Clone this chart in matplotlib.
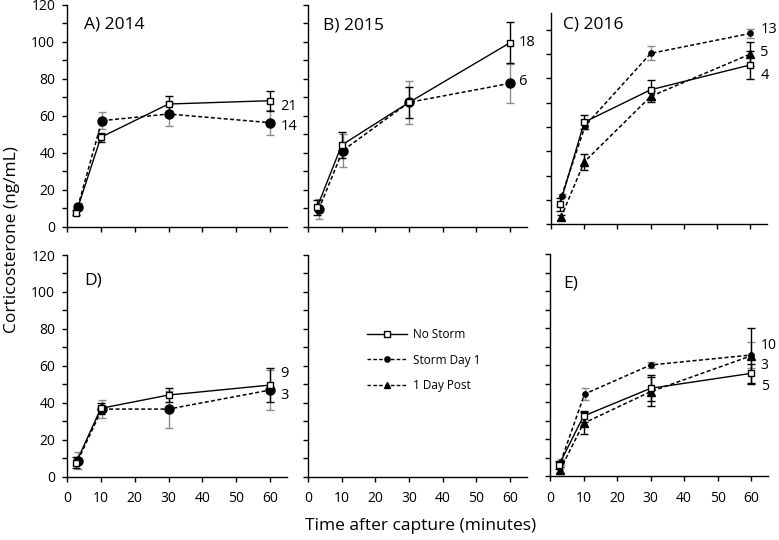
import matplotlib
matplotlib.use("Agg")
import matplotlib.pyplot as plt
from matplotlib.lines import Line2D

plt.rcParams['font.family'] = ['Open Sans', 'DejaVu Sans']

# ---------------- data ----------------
t_nostorm = [2.7, 10, 30, 60]
t_storm = [3.2, 10.3, 30, 60]
t_post = [3.0, 10, 30, 60]

# Panel A (2014)
a_ns_y = [7.6, 48.4, 66.4, 68.2]
a_ns_err = [1.5, 2.5, 4.3, 5.4]
a_sd_y = [10.8, 57.4, 61.0, 56.3]
a_sd_err = [2.0, 4.5, 6.5, 6.7]
a_n = ["21", "14"]

# Panel B (2015)
b_ns_y = [10.5, 44.2, 67.3, 99.6]
b_ns_err = [4.0, 7.0, 8.5, 11.0]
b_sd_y = [9.4, 41.2, 67.3, 77.6]
b_sd_err = [5.4, 9.0, 11.5, 10.5]
b_n = ["18", "6"]

# Panel C (2016)
c_ns_y = [12.4, 62.9, 82.9, 98.2]
c_ns_err = [4.0, 4.3, 6.2, 8.6]
c_sd_y = [17.6, 60.8, 105.3, 117.6]
c_sd_err = [1.0, 2.0, 4.3, 3.0]
c_pd_y = [4.3, 38.4, 78.8, 104.9]
c_pd_err = [1.5, 5.1, 3.4, 7.4]
c_n = ["13", "5", "4"]

# Panel D
d_ns_y = [7.6, 37.0, 44.2, 49.6]
d_ns_err = [3.0, 3.0, 3.6, 9.0]
d_sd_y = [8.7, 36.6, 36.6, 46.9]
d_sd_err = [4.5, 5.0, 10.0, 11.0]
d_n = ["9", "3"]

# Panel E
e_ns_y = [6.0, 32.4, 47.4, 55.5]
e_ns_err = [2.0, 3.0, 7.0, 5.0]
e_sd_y = [7.7, 44.3, 60.0, 65.4]
e_sd_err = [1.5, 3.0, 1.5, 7.0]
e_pd_y = [3.2, 28.5, 45.6, 65.0]
e_pd_err = [1.5, 6.0, 8.0, 15.0]
e_n = ["10", "3", "5"]

x_ticks = [0, 10, 20, 30, 40, 50, 60]
legend_labels = ["No Storm", "Storm Day 1", "1 Day Post"]

# ---------------- styles ----------------
GRAY = "#8c8c8c"
DASH = (0, (2.6, 1.6))
fig = plt.figure(figsize=(7.79, 5.40), dpi=100)

W, H = 779.0, 540.0


def rect(x0, x1, ytop, ybot):
    return [x0 / W, 1 - ybot / H, (x1 - x0) / W, (ybot - ytop) / H]


def style_axes(ax, ymax, yticks, ylabels, xlabels):
    for s in ['top', 'right']:
        ax.spines[s].set_visible(False)
    for s in ['left', 'bottom']:
        ax.spines[s].set_linewidth(1.0)
    ax.set_xlim(0, 65)
    ax.set_ylim(0, ymax)
    ax.set_xticks(x_ticks)
    ax.set_yticks(yticks)
    if xlabels:
        ax.set_xticklabels([str(v) for v in x_ticks])
    else:
        ax.set_xticklabels([])
    if ylabels:
        ax.set_yticklabels([str(v) if v % 20 == 0 else "" for v in yticks])
    else:
        ax.set_yticklabels([])
    ax.tick_params(axis='both', direction='out', length=3.5, width=1.0,
                   labelsize=10, colors='black')
    ax.tick_params(axis='y', pad=5)
    ax.tick_params(axis='x', pad=7)


def nostorm(ax, y, err):
    ax.errorbar(t_nostorm, y, yerr=err, fmt='none', ecolor='black',
                elinewidth=1.0, capsize=3, capthick=1.0, zorder=2)
    ax.plot(t_nostorm, y, color='black', lw=1.0, marker='s', ms=4.2,
            mfc='white', mec='black', mew=1.0, zorder=4)


def storm(ax, y, err, big=True):
    ax.errorbar(t_storm, y, yerr=err, fmt='none', ecolor=GRAY,
                elinewidth=1.0, capsize=3, capthick=1.0, zorder=2)
    ax.plot(t_storm, y, color='black', lw=1.1, ls=DASH, marker='o',
            ms=6.5 if big else 3.8, mfc='black', mec='black', zorder=3)


def post(ax, y, err):
    ax.errorbar(t_post, y, yerr=err, fmt='none', ecolor='black',
                elinewidth=1.0, capsize=3, capthick=1.0, zorder=2)
    ax.plot(t_post, y, color='black', lw=1.1, ls=DASH, marker='^',
            ms=5.5, mfc='black', mec='black', zorder=3)


def nlabels(ax, labels, ys, x=63, fs=10.5):
    for lab, yy in zip(labels, ys):
        ax.text(x, yy, lab, fontsize=fs, va='center', ha='left', clip_on=False)


yt = list(range(0, 121, 10))
yt_c = list(range(0, 121, 15))

# Panel A
axA = fig.add_axes(rect(67, 287, 5, 226.7))
style_axes(axA, 120, yt, True, False)
storm(axA, a_sd_y, a_sd_err)
nostorm(axA, a_ns_y, a_ns_err)
axA.text(0.077, 0.912, "A) 2014", transform=axA.transAxes, fontsize=12.5, va='center')
nlabels(axA, a_n, [65.3, 54.5])

# Panel B
axB = fig.add_axes(rect(308, 527, 5, 226.7))
style_axes(axB, 120, yt, False, False)
storm(axB, b_sd_y, b_sd_err)
nostorm(axB, b_ns_y, b_ns_err)
axB.text(0.067, 0.907, "B) 2015", transform=axB.transAxes, fontsize=12.5, va='center')
nlabels(axB, b_n, [99.6, 78.5], x=62.5)

# Panel C
axC = fig.add_axes(rect(551, 767, 13.3, 224.3))
style_axes(axC, 130, yt_c, False, False)
storm(axC, c_sd_y, c_sd_err, big=False)
post(axC, c_pd_y, c_pd_err)
nostorm(axC, c_ns_y, c_ns_err)
axC.text(0.054, 0.945, "C) 2016", transform=axC.transAxes, fontsize=12.5, va='center')
nlabels(axC, c_n, [120.1, 105.7, 91.4])

# Panel D
axD = fig.add_axes(rect(67, 287, 255, 476.7))
style_axes(axD, 120, yt, True, True)
storm(axD, d_sd_y, d_sd_err)
nostorm(axD, d_ns_y, d_ns_err)
axD.text(0.077, 0.887, "D)", transform=axD.transAxes, fontsize=12.5, va='center')
nlabels(axD, d_n, [55.6, 44.2])

# Middle legend panel
axM = fig.add_axes(rect(308, 527, 255, 476.7))
style_axes(axM, 120, yt, False, True)
handles = [
    Line2D([], [], color='black', lw=1.0, marker='s', ms=4.2, mfc='white', mec='black'),
    Line2D([], [], color='black', lw=1.0, ls=DASH, marker='o', ms=3.8, mfc='black', mec='black'),
    Line2D([], [], color='black', lw=1.0, ls=DASH, marker='^', ms=4.5, mfc='black', mec='black'),
]
axM.legend(handles, legend_labels, loc='upper left', bbox_to_anchor=(0.27, 0.67),
           frameon=False, fontsize=8.5, handlelength=3.4, handletextpad=0.5,
           labelspacing=1.05, borderpad=0, borderaxespad=0)

# Panel E
axE = fig.add_axes(rect(550, 768, 254, 476))
style_axes(axE, 120, yt, False, True)
storm(axE, e_sd_y, e_sd_err, big=False)
post(axE, e_pd_y, e_pd_err)
nostorm(axE, e_ns_y, e_ns_err)
axE.text(0.06, 0.866, "E)", transform=axE.transAxes, fontsize=12.5, va='center')
nlabels(axE, e_n, [70.3, 59.5, 48.6], x=62.8, fs=10)

fig.text(421 / W, 1 - 526 / H, "Time after capture (minutes)", fontsize=12.5,
         ha='center', va='center')
fig.text(12 / W, 1 - 240 / H, "Corticosterone (ng/mL)", fontsize=12.5,
         ha='center', va='center', rotation=90)

fig.savefig("out.png", dpi=100)
